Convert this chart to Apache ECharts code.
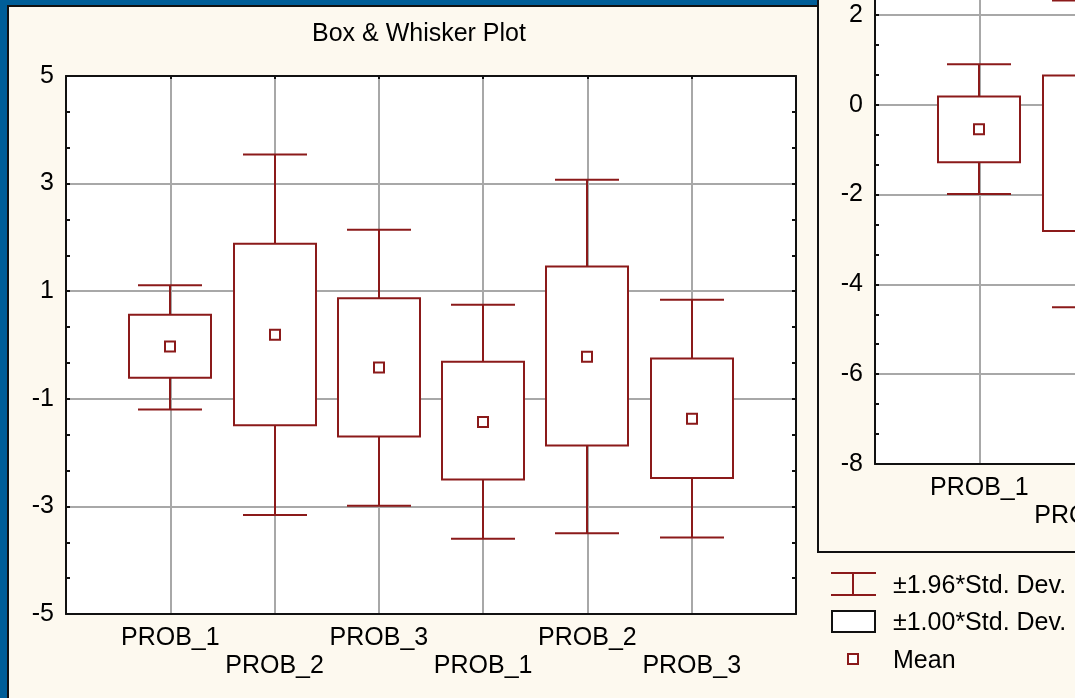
<!DOCTYPE html>
<html>
<head>
<meta charset="utf-8">
<script src="https://cdn.jsdelivr.net/npm/echarts@6/dist/echarts.min.js"></script>
<style>
html,body{margin:0;padding:0;background:#005e98;}
#chart{width:1075px;height:698px;}
</style>
</head>
<body>
<div id="chart"></div>
<script>
// ---- Main chart data (Box & Whisker Plot) ----
var categories1 = ['PROB_1', 'PROB_2', 'PROB_3', 'PROB_1', 'PROB_2', 'PROB_3'];
var whiskerHigh1 = [1.11, 3.54, 2.14, 0.75, 3.07, 0.84];   // +1.96*SD
var boxHigh1     = [0.56, 1.88, 0.87, -0.31, 1.46, -0.25]; // +1.00*SD
var mean1        = [-0.03, 0.19, -0.42, -1.43, -0.22, -1.37];
var boxLow1      = [-0.61, -1.49, -1.70, -2.50, -1.87, -2.47]; // -1.00*SD
var whiskerLow1  = [-1.20, -3.16, -2.99, -3.60, -3.50, -3.58]; // -1.96*SD
var yTicks1 = [-5, 5, 2];

// ---- Second (overlapping) window data ----
var categories2 = ['PROB_1', 'PROB_2'];
var whiskerHigh2 = [0.90, 2.32];
var boxHigh2     = [0.18, 0.65];
var mean2        = [-0.55, -1.08];
var boxLow2      = [-1.28, -2.81];
var whiskerLow2  = [-1.99, -4.51];
var yTicks2 = [-8, 4, 2];

var legendLabels = ['\u00b11.96*Std. Dev.', '\u00b11.00*Std. Dev.', 'Mean'];
var titleText = 'Box & Whisker Plot';

var RED = '#8b1a1a';
var GRID = '#a8a8a8';
var FONT = "'Liberation Sans', Arial, sans-serif";

function buildData(cats, wl, bl, m, bh, wh) {
  return cats.map(function (c, i) { return [i + 1, wl[i], bl[i], m[i], bh[i], wh[i]]; });
}

function renderBox(params, api) {
  var x = api.value(0);
  var pTop = api.coord([x, api.value(5)]);
  var pBoxTop = api.coord([x, api.value(4)]);
  var pMean = api.coord([x, api.value(3)]);
  var pBoxBot = api.coord([x, api.value(2)]);
  var pBot = api.coord([x, api.value(1)]);
  var unit = api.size([1, 0])[0];
  var bw = Math.round(unit * 0.79), cw = Math.round(unit * 0.61), ms = 10;
  var cx = Math.round(pTop[0]);
  var ls = { stroke: RED, lineWidth: 2, fill: null };
  return {
    type: 'group',
    children: [
      { type: 'line', shape: { x1: cx, y1: pTop[1], x2: cx, y2: pBoxTop[1] }, style: ls },
      { type: 'line', shape: { x1: cx - cw / 2, y1: pTop[1], x2: cx + cw / 2, y2: pTop[1] }, style: ls },
      { type: 'line', shape: { x1: cx, y1: pBoxBot[1], x2: cx, y2: pBot[1] }, style: ls },
      { type: 'line', shape: { x1: cx - cw / 2, y1: pBot[1], x2: cx + cw / 2, y2: pBot[1] }, style: ls },
      { type: 'rect', shape: { x: cx - bw / 2, y: pBoxTop[1], width: bw, height: pBoxBot[1] - pBoxTop[1] },
        style: { fill: '#fff', stroke: RED, lineWidth: 2 } },
      { type: 'rect', shape: { x: cx - ms / 2, y: pMean[1] - ms / 2, width: ms, height: ms },
        style: { fill: '#fff', stroke: RED, lineWidth: 2 } }
    ]
  };
}

function xLabel(cats) {
  return function (v) {
    var i = Math.round(v) - 1;
    if (i < 0 || i >= cats.length) return '';
    return (i % 2 === 1 ? '\n' : '') + cats[i];
  };
}

function xAxisBottom(gridIndex, cats) {
  return {
    gridIndex: gridIndex, type: 'value', position: 'bottom', min: 0, max: 7, interval: 1,
    axisLine: { show: true, onZero: false, lineStyle: { color: '#111', width: 2 } },
    axisTick: { show: false },
    splitLine: { show: true, showMinLine: false, showMaxLine: false, lineStyle: { color: GRID, width: 2 } },
    axisLabel: { formatter: xLabel(cats), fontSize: 25, lineHeight: 28, margin: 10, color: '#000', fontFamily: FONT }
  };
}
function xAxisTop(gridIndex) {
  return {
    gridIndex: gridIndex, type: 'value', position: 'top', min: 0, max: 7, interval: 1,
    axisLine: { show: true, onZero: false, lineStyle: { color: '#111', width: 2 } },
    axisTick: { show: true, inside: true, length: 3, lineStyle: { color: '#111', width: 2 } },
    splitLine: { show: false }, axisLabel: { show: false }
  };
}
function yAxisDef(gridIndex, ticks, pos, labels) {
  return {
    gridIndex: gridIndex, type: 'value', position: pos, min: ticks[0], max: ticks[1], interval: ticks[2],
    axisLine: { show: true, onZero: false, lineStyle: { color: '#111', width: 2 } },
    axisTick: { show: true, inside: true, length: 4, lineStyle: { color: '#111', width: 2 } },
    minorTick: { show: true, splitNumber: 3, length: 4, lineStyle: { color: '#111', width: 2 } },
    splitLine: { show: labels, showMinLine: false, showMaxLine: false, lineStyle: { color: GRID, width: 2 } },
    axisLabel: { show: labels, fontSize: 25, margin: 12, color: '#000', fontFamily: FONT }
  };
}

var chart = echarts.init(document.getElementById('chart'), null, { renderer: 'canvas' });
chart.setOption({
  backgroundColor: '#005e98',
  animation: false,
  title: {
    text: titleText, left: 312, top: 22, padding: 0,
    textStyle: { fontSize: 25, fontWeight: 'normal', color: '#000', fontFamily: FONT }
  },
  grid: [
    { left: 66, top: 76, width: 730, height: 538, show: true, backgroundColor: '#fff', borderWidth: 0,
      containLabel: false, outerBoundsMode: 'none' },
    { left: 875, top: -75, width: 730, height: 539, show: true, backgroundColor: '#fff', borderWidth: 0,
      containLabel: false, outerBoundsMode: 'none' }
  ],
  xAxis: [xAxisBottom(0, categories1), xAxisTop(0), xAxisBottom(1, categories2)],
  yAxis: [yAxisDef(0, yTicks1, 'left', true), yAxisDef(0, yTicks1, 'right', false), yAxisDef(1, yTicks2, 'left', true)],
  graphic: [
    { type: 'rect', z: -10, shape: { x: 8, y: 6, width: 1200, height: 800 },
      style: { fill: '#fdf9ef', stroke: '#111', lineWidth: 2 } },
    { type: 'rect', z: -9, shape: { x: 818, y: -20, width: 400, height: 572 },
      style: { fill: '#fdf9ef', stroke: '#111', lineWidth: 2 } },
    // legend
    { type: 'group', z: 10, children: [
      { type: 'line', shape: { x1: 831, y1: 573, x2: 876, y2: 573 }, style: { stroke: RED, lineWidth: 2 } },
      { type: 'line', shape: { x1: 831, y1: 595, x2: 876, y2: 595 }, style: { stroke: RED, lineWidth: 2 } },
      { type: 'line', shape: { x1: 853, y1: 573, x2: 853, y2: 595 }, style: { stroke: RED, lineWidth: 2 } },
      { type: 'text', style: { x: 893, y: 586, text: legendLabels[0], fontSize: 25, fontFamily: FONT, fill: '#000', verticalAlign: 'middle' } },
      { type: 'rect', shape: { x: 832, y: 611, width: 43, height: 21 }, style: { fill: '#fff', stroke: '#111', lineWidth: 2 } },
      { type: 'text', style: { x: 893, y: 623, text: legendLabels[1], fontSize: 25, fontFamily: FONT, fill: '#000', verticalAlign: 'middle' } },
      { type: 'rect', shape: { x: 848, y: 654, width: 10, height: 10 }, style: { fill: '#fff', stroke: RED, lineWidth: 2 } },
      { type: 'text', style: { x: 893, y: 661, text: legendLabels[2], fontSize: 25, fontFamily: FONT, fill: '#000', verticalAlign: 'middle' } }
    ]}
  ],
  series: [
    { type: 'custom', name: 'Box & Whisker', xAxisIndex: 0, yAxisIndex: 0, renderItem: renderBox,
      encode: { x: 0, y: [1, 2, 3, 4, 5] }, data: buildData(categories1, whiskerLow1, boxLow1, mean1, boxHigh1, whiskerHigh1), z: 5 },
    { type: 'custom', name: 'Box & Whisker 2', xAxisIndex: 2, yAxisIndex: 2, renderItem: renderBox,
      encode: { x: 0, y: [1, 2, 3, 4, 5] }, data: buildData(categories2, whiskerLow2, boxLow2, mean2, boxHigh2, whiskerHigh2), z: 5 }
  ]
});
</script>
</body>
</html>
